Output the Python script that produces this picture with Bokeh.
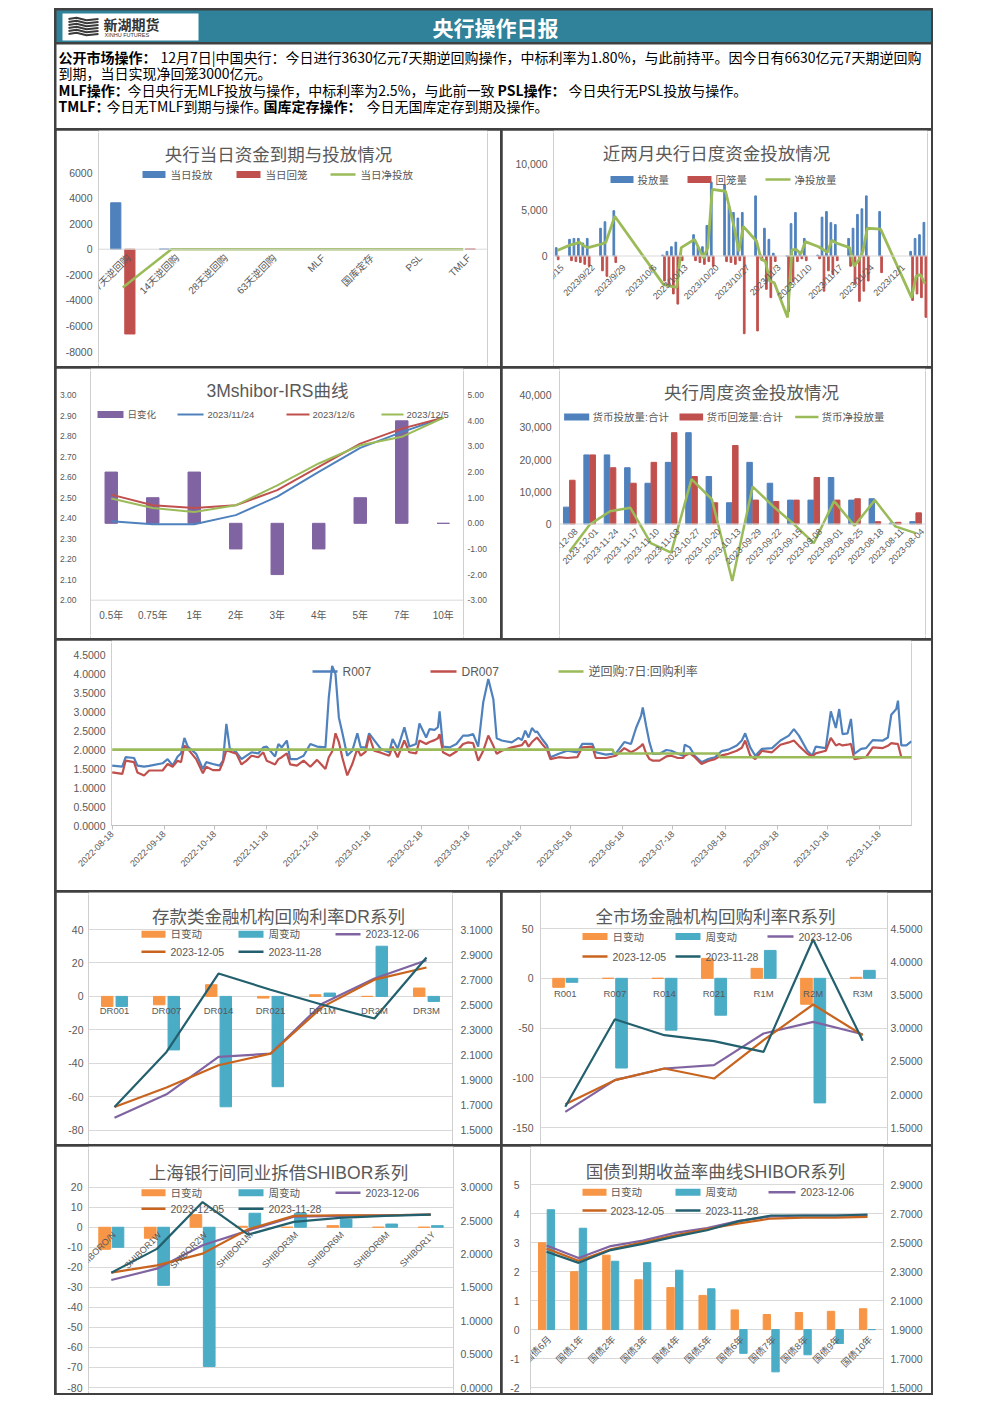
import pandas as pd
from math import pi
from bokeh.plotting import figure
from bokeh.layouts import row, column
from bokeh.models import (Range1d, LinearAxis, FixedTicker, PrintfTickFormatter,
                          NumeralTickFormatter, DatetimeTickFormatter, ColumnDataSource,
                          LabelSet, Span, Spacer)
from bokeh.transform import dodge
from bokeh.core.properties import value
from bokeh.embed import file_html
from bokeh.resources import INLINE

# ======================= DATA =======================
HEADER_TITLE = "央行操作日报"
LOGO_CN = "新湖期货"
LOGO_EN = "XINHU FUTURES"

notice_line1 = [("公开市场操作：", True),
                ("12月7日|中国央行：今日进行3630亿元7天期逆回购操作，中标利率为1.80%，与此前持平。因今日有6630亿元7天期逆回购", False)]
notice_line2 = [("到期，当日实现净回笼3000亿元。", False)]
notice_line3 = [("MLF操作：", True), ("今日央行无MLF投放与操作，中标利率为2.5%，与此前一致 ", False),
                ("PSL操作：", True), ("今日央行无PSL投放与操作。", False)]
notice_line4 = [("TMLF：", True), ("今日无TMLF到期与操作。", False),
                ("国库定存操作：", True), ("今日无国库定存到期及操作。", False)]

# Panel 1
p1_title = "央行当日资金到期与投放情况"
p1_cats = ["7天逆回购", "14天逆回购", "28天逆回购", "63天逆回购", "MLF", "国库定存", "PSL", "TMLF"]
p1_inject = [3630, 0, 0, 0, 0, 0, 0, 0]
p1_withdraw = [-6630, 0, 0, 0, 0, 0, 0, 0]
p1_net = [-3000, 0, 0, 0, 0, 0, 0, 0]
p1_ticks = [-8000, -6000, -4000, -2000, 0, 2000, 4000, 6000]
p1_legend = ["当日投放", "当日回笼", "当日净投放"]

# Panel 2
p2_title = "近两月央行日度资金投放情况"
p2_dates = ["2023-09-15", "2023-09-18", "2023-09-19", "2023-09-20", "2023-09-21", "2023-09-22",
            "2023-09-25", "2023-09-26", "2023-09-28",
            "2023-10-09", "2023-10-10", "2023-10-11", "2023-10-12", "2023-10-13",
            "2023-10-16", "2023-10-17", "2023-10-18", "2023-10-19", "2023-10-20",
            "2023-10-23", "2023-10-24", "2023-10-25", "2023-10-26", "2023-10-27",
            "2023-10-30", "2023-10-31", "2023-11-01", "2023-11-02", "2023-11-03",
            "2023-11-06", "2023-11-07", "2023-11-08", "2023-11-09", "2023-11-10",
            "2023-11-13", "2023-11-14", "2023-11-15", "2023-11-16", "2023-11-17",
            "2023-11-20", "2023-11-21", "2023-11-22", "2023-11-23", "2023-11-24",
            "2023-11-27",
            "2023-12-04", "2023-12-05", "2023-12-06", "2023-12-07"]
p2_inject = [900, 1800, 1900, 1900, 1400, 1900, 3000, 3700, 4900,
             100, 500, 1000, 1500, 300,
             2300, 1000, 1000, 3300, 8000,
             7700, 5400, 4700, 4100, 4700,
             6500, 200, 3000, 1800, 300,
             0, 3500, 4700, 500, 1900,
             100, 4200, 4800, 3600, 3400,
             1900, 3000, 4500, 5100, 6500,
             4800,
             500, 1900, 2300, 3630]
p2_withdraw = [-400, -500, -600, -700, -900, -1100, -1600, -2200, -700,
               -2700, -3300, -4100, -5200, -500,
               -500, -700, -900, -600, -1100,
               -600, -700, -900, -500, -8400,
               -8100, -500, -3600, -4500, -600,
               -6000, -2800, -600, -300, -500,
               -300, -3800, -1600, -2000, -500,
               -1100, -3000, -4900, -3800, -2700,
               -1800,
               -4800, -4100, -4500, -6630]
p2_net = [600, 1200, 1300, 1500, 1100, 900, 1300, 1500, 4300,
          -3100, -3200, -3300, -3400, 900,
          1800, 800, -200, 900, 7200,
          7000, 5000, 3000, 500, 3200,
          1600, -300, -600, -2700, -2900,
          -6650, 700, 700, 200, 1550,
          1000, 700, 400, 1700, 1400,
          900, -1100, -500, 500, 3000,
          2900,
          -4500, -2200, -2000, -3000]
p2_tick_dates = ["2023-09-15", "2023-09-22", "2023-09-29", "2023-10-06", "2023-10-13", "2023-10-20",
                 "2023-10-27", "2023-11-03", "2023-11-10", "2023-11-17", "2023-11-24", "2023-12-01"]
p2_tick_labels = ["2023/9/15", "2023/9/22", "2023/9/29", "2023/10/6", "2023/10/13", "2023/10/20",
                  "2023/10/27", "2023/11/3", "2023/11/10", "2023/11/17", "2023/11/24", "2023/12/1"]
p2_pos_ticks = [0, 5000, 10000]
p2_neg_ticks = [-5000, -10000]
p2_neg_labels = ["(5,000)", "(10,000)"]
p2_legend = ["投放量", "回笼量", "净投放量"]

# Panel 3
p3_title = "3Mshibor-IRS曲线"
p3_cats = ["0.5年", "0.75年", "1年", "2年", "3年", "4年", "5年", "7年", "10年"]
p3_change = [2.0, 1.0, 2.0, -1.0, -2.0, -1.0, 1.0, 4.0, 0.0]
p3_1124 = [2.385, 2.37, 2.37, 2.415, 2.505, 2.626, 2.743, 2.82, 2.89]
p3_1206 = [2.515, 2.463, 2.45, 2.463, 2.537, 2.65, 2.764, 2.837, 2.89]
p3_1205 = [2.496, 2.45, 2.43, 2.463, 2.56, 2.667, 2.756, 2.797, 2.89]
p3_left_ticks = [2.0, 2.1, 2.2, 2.3, 2.4, 2.5, 2.6, 2.7, 2.8, 2.9, 3.0]
p3_right_ticks = [-3, -2, -1, 0, 1, 2, 3, 4, 5]
p3_legend = ["日变化", "2023/11/24", "2023/12/6", "2023/12/5"]

# Panel 4
p4_title = "央行周度资金投放情况"
p4_cats = ["2023-12-08", "2023-12-01", "2023-11-24", "2023-11-17", "2023-11-10", "2023-11-03",
           "2023-10-27", "2023-10-20", "2023-10-13", "2023-09-29", "2023-09-22", "2023-09-15",
           "2023-09-08", "2023-09-01", "2023-08-25", "2023-08-18", "2023-08-11", "2023-08-04"]
p4_inject = [5240, 21470, 21470, 17490, 12670, 19160, 28380, 14760, 6600, 19160, 12670, 7430,
             7430, 14450, 7430, 7850, 300, 730]
p4_withdraw = [13600, 21470, 17490, 12670, 19160, 28380, 14760, 6600, 24400, 7430, 7010, 7430,
               14450, 7430, 7850, 730, 520, 3460]
p4_net = [-8590, -200, 3980, 5030, -5970, -8900, 13930, 7640, -17700, 11620, 5550, 100,
          -5970, 7120, -520, 7430, -730, -2830]
p4_pos_ticks = [0, 10000, 20000, 30000, 40000]
p4_neg_ticks = [-10000, -20000, -30000]
p4_neg_labels = ["(10,000)", "(20,000)", "(30,000)"]
p4_legend = ["货币投放量:合计", "货币回笼量:合计", "货币净投放量"]

# Panel 5
p5_dates = ["2022-08-18", "2022-08-24", "2022-08-26", "2022-08-31", "2022-09-02", "2022-09-06",
            "2022-09-09", "2022-09-17", "2022-09-20", "2022-09-23", "2022-09-26", "2022-09-28",
            "2022-09-30", "2022-10-02", "2022-10-07", "2022-10-11", "2022-10-13", "2022-10-17",
            "2022-10-21", "2022-10-23", "2022-10-25", "2022-10-27", "2022-10-31", "2022-11-03",
            "2022-11-06", "2022-11-09", "2022-11-13", "2022-11-16", "2022-11-18", "2022-11-23",
            "2022-11-25", "2022-11-27", "2022-11-30", "2022-12-02", "2022-12-06", "2022-12-10",
            "2022-12-14", "2022-12-18", "2022-12-23", "2022-12-25", "2022-12-27", "2022-12-29",
            "2022-12-31", "2023-01-02", "2023-01-05", "2023-01-08", "2023-01-11", "2023-01-13",
            "2023-01-16", "2023-01-18", "2023-01-21", "2023-01-25", "2023-01-30", "2023-02-01",
            "2023-02-04", "2023-02-08", "2023-02-11", "2023-02-15", "2023-02-17", "2023-02-21",
            "2023-02-23", "2023-02-26", "2023-02-28", "2023-03-01", "2023-03-03", "2023-03-07",
            "2023-03-11", "2023-03-15", "2023-03-18", "2023-03-21", "2023-03-24", "2023-03-27",
            "2023-03-30", "2023-04-02", "2023-04-04", "2023-04-07", "2023-04-13", "2023-04-17",
            "2023-04-19", "2023-04-21", "2023-04-23", "2023-04-25", "2023-04-27", "2023-04-28",
            "2023-05-01", "2023-05-04", "2023-05-06", "2023-05-11", "2023-05-16", "2023-05-22",
            "2023-05-25", "2023-05-31", "2023-06-02", "2023-06-08", "2023-06-14", "2023-06-19",
            "2023-06-23", "2023-06-26", "2023-06-29", "2023-06-30", "2023-07-02", "2023-07-04",
            "2023-07-06", "2023-07-10", "2023-07-14", "2023-07-17", "2023-07-21", "2023-07-24",
            "2023-07-25", "2023-07-28", "2023-07-31", "2023-08-04", "2023-08-08", "2023-08-12",
            "2023-08-16", "2023-08-20", "2023-08-25", "2023-08-28", "2023-08-30", "2023-09-02",
            "2023-09-05", "2023-09-09", "2023-09-15", "2023-09-20", "2023-09-25", "2023-09-28",
            "2023-10-01", "2023-10-06", "2023-10-09", "2023-10-11", "2023-10-17", "2023-10-20",
            "2023-10-23", "2023-10-25", "2023-10-27", "2023-10-30", "2023-11-01", "2023-11-03",
            "2023-11-07", "2023-11-10", "2023-11-14", "2023-11-20", "2023-11-23", "2023-11-25",
            "2023-11-28", "2023-11-29", "2023-12-01", "2023-12-04", "2023-12-07"]
p5_r007 = [1.58, 1.55, 1.80, 1.78, 1.58, 1.55, 1.57, 1.64, 1.75, 1.58, 1.82, 1.90,
           2.31, 2.08, 1.89, 1.49, 1.67, 1.62, 1.58, 1.71, 2.68, 2.04, 1.93, 1.75,
           1.84, 1.93, 1.90, 2.06, 2.08, 1.82, 2.15, 2.06, 2.24, 1.75, 1.75, 1.84,
           2.15, 2.08, 2.06, 3.38, 4.21, 3.99, 2.85, 2.46, 1.84, 1.97, 2.43, 2.06,
           2.06, 2.43, 2.25, 2.02, 1.93, 2.28, 2.02, 2.59, 2.08, 2.15, 2.69, 2.32,
           2.54, 2.52, 2.59, 3.01, 2.08, 2.06, 2.15, 2.37, 2.37, 2.41, 2.08, 3.25,
           3.86, 3.33, 2.30, 2.24, 2.19, 2.31, 2.25, 2.50, 2.32, 2.57, 2.46, 2.48,
           2.28, 2.11, 1.80, 1.89, 1.97, 1.93, 2.15, 2.15, 1.93, 1.87, 1.90, 2.20,
           2.15, 2.57, 2.89, 3.11, 2.63, 2.19, 1.89, 1.89, 1.99, 1.97, 1.89, 1.84,
           2.13, 2.06, 1.84, 1.67, 1.75, 1.80, 1.96, 2.00, 2.11, 2.24, 2.43, 2.06,
           1.84, 2.02, 2.04, 2.24, 2.37, 2.54, 2.37, 1.97, 1.84, 2.08, 2.04, 3.01,
           2.57, 3.07, 2.41, 2.43, 2.81, 1.89, 2.02, 2.04, 2.25, 2.24, 2.32, 2.92,
           3.07, 3.29, 2.11, 2.11, 2.22]
p5_dr007 = [1.40, 1.36, 1.71, 1.67, 1.40, 1.32, 1.45, 1.45, 1.62, 1.55, 1.71, 1.67,
            2.11, 2.02, 1.75, 1.38, 1.55, 1.46, 1.46, 1.67, 1.99, 1.95, 1.89, 1.61,
            1.71, 1.84, 1.80, 1.93, 1.71, 1.61, 1.75, 1.80, 1.90, 1.61, 1.58, 1.71,
            1.55, 1.73, 1.49, 1.80, 1.95, 2.43, 2.20, 1.80, 1.32, 1.62, 2.02, 1.84,
            1.95, 2.37, 1.97, 1.92, 1.84, 2.08, 1.80, 2.24, 1.93, 1.90, 2.24, 2.15,
            2.20, 2.25, 2.30, 2.41, 1.93, 1.84, 1.95, 2.15, 2.19, 2.17, 1.71, 1.97,
            2.37, 2.10, 1.89, 1.97, 2.06, 2.10, 2.12, 2.24, 2.08, 2.20, 2.28, 2.32,
            2.15, 2.00, 1.75, 1.80, 1.78, 1.80, 2.06, 2.08, 1.78, 1.78, 1.84, 2.04,
            1.93, 2.00, 2.10, 2.15, 1.90, 1.75, 1.71, 1.71, 1.82, 1.84, 1.78, 1.78,
            1.84, 1.90, 1.80, 1.62, 1.70, 1.75, 1.85, 1.89, 1.97, 2.05, 2.24, 1.84,
            1.75, 1.97, 1.93, 2.13, 2.19, 2.24, 2.10, 1.89, 1.82, 1.90, 1.97, 2.31,
            2.11, 2.15, 2.11, 2.13, 2.15, 1.75, 1.78, 1.80, 2.06, 2.04, 2.10, 2.17,
            2.15, 2.15, 1.80, 1.80, 1.80]
p5_rr_dates = ["2022-08-18", "2023-06-12", "2023-06-13", "2023-08-14", "2023-08-15", "2023-12-07"]
p5_rr = [2.0, 2.0, 1.9, 1.9, 1.8, 1.8]
p5_ticks = ["2022-08-18", "2022-09-18", "2022-10-18", "2022-11-18", "2022-12-18", "2023-01-18",
            "2023-02-18", "2023-03-18", "2023-04-18", "2023-05-18", "2023-06-18", "2023-07-18",
            "2023-08-18", "2023-09-18", "2023-10-18", "2023-11-18"]
p5_yticks = [0, 0.5, 1.0, 1.5, 2.0, 2.5, 3.0, 3.5, 4.0, 4.5]
p5_legend = ["R007", "DR007", "逆回购:7日:回购利率"]

# Panels 6-9 common legend
bp_legend = ["日变动", "周变动", "2023-12-06", "2023-12-05", "2023-11-28"]

p6_title = "存款类金融机构回购利率DR系列"
p6_cats = ["DR001", "DR007", "DR014", "DR021", "DR1M", "DR2M", "DR3M"]
p6_day = [-6, -5, 7, -1, 1, 0, 5]
p6_week = [-6, -32, -66, -54, 2, 30, -3]
p6_1206 = [1.60, 1.786, 2.084, 2.11, 2.51, 2.71, 2.855]
p6_1205 = [1.685, 1.84, 2.018, 2.11, 2.483, 2.70, 2.797]
p6_1128 = [1.685, 2.124, 2.749, 2.62, 2.50, 2.39, 2.877]
p6_left_ticks = [-80, -60, -40, -20, 0, 20, 40]
p6_right_ticks = [1.5, 1.7, 1.9, 2.1, 2.3, 2.5, 2.7, 2.9, 3.1]

p7_title = "全市场金融机构回购利率R系列"
p7_cats = ["R001", "R007", "R014", "R021", "R1M", "R2M", "R3M"]
p7_day = [-9, 0, 0, 20, 10, -26, 1]
p7_week = [-4, -90, -52, -37, 28, -125, 8]
p7_1206 = [1.74, 2.217, 2.393, 2.443, 2.92, 3.095, 2.909]
p7_1205 = [1.856, 2.217, 2.393, 2.242, 2.819, 3.356, 2.894]
p7_1128 = [1.816, 3.135, 2.894, 2.804, 2.643, 4.334, 2.809]
p7_left_ticks = [-150, -100, -50, 0, 50]
p7_right_ticks = [1.5, 2.0, 2.5, 3.0, 3.5, 4.0, 4.5]

p8_title = "上海银行间同业拆借SHIBOR系列"
p8_cats = ["SHIBORO/N", "SHIBOR1W", "SHIBOR2W", "SHIBOR1M", "SHIBOR3M", "SHIBOR6M", "SHIBOR9M", "SHIBOR1Y"]
p8_day = [-11, -5.5, 6.3, 0.5, 0, 0.8, 0, 0]
p8_week = [-10, -29, -69.5, 7, 7, 4, 1.6, 0.8]
p8_1206 = [1.61, 1.78, 2.13, 2.35, 2.56, 2.57, 2.58, 2.59]
p8_1205 = [1.72, 1.83, 2.005, 2.37, 2.57, 2.58, 2.58, 2.59]
p8_1128 = [1.72, 2.076, 2.777, 2.29, 2.48, 2.54, 2.57, 2.59]
p8_left_ticks = [-80, -70, -60, -50, -40, -30, -20, -10, 0, 10, 20]
p8_right_ticks = [0.0, 0.5, 1.0, 1.5, 2.0, 2.5, 3.0]

p9_title = "国债到期收益率曲线SHIBOR系列"
p9_cats = ["国债6月", "国债1年", "国债2年", "国债3年", "国债4年", "国债5年", "国债6年", "国债7年",
           "国债8年", "国债9年", "国债10年"]
p9_day = [3.0, 2.0, 2.57, 1.72, 1.45, 1.18, 0.68, 0.52, 0.59, 0.63, 0.72]
p9_week = [4.14, 3.5, 2.36, 2.31, 2.05, 1.41, -0.82, -1.46, -0.87, -0.48, 0.0]
p9_1206 = [2.481, 2.394, 2.477, 2.514, 2.568, 2.601, 2.651, 2.682, 2.688, 2.688, 2.688]
p9_1205 = [2.459, 2.376, 2.455, 2.503, 2.551, 2.595, 2.634, 2.667, 2.673, 2.673, 2.678]
p9_1128 = [2.438, 2.361, 2.449, 2.492, 2.542, 2.586, 2.649, 2.688, 2.688, 2.688, 2.695]
p9_left_ticks = [-2, -1, 0, 1, 2, 3, 4, 5]
p9_right_ticks = [1.5, 1.7, 1.9, 2.1, 2.3, 2.5, 2.7, 2.9]

# ======================= STYLE =======================
GREY = "#595959"
GRID = "#d9d9d9"
BLUE = "#4f81bd"
RED = "#c0504d"
GREEN = "#9bbb59"
PURPLE = "#8064a2"
ORANGE = "#f79646"
TEAL = "#4bacc6"
BROWN = "#c8641e"
DTEAL = "#23606e"
NEGRED = "#e01e1e"
HEAD = "#2f8299"
DARK = "#404040"
FONT = "Liberation Sans, Noto Sans CJK SC"
CJK = "Noto Sans CJK SC"
DAY = 86400000.0
PANEL_CSS = {"outline": "1px solid #c4c4c4", "outline-offset": "-3px"}


def ms(s):
    return pd.Timestamp(s).value / 1e6


class Lin:
    def __init__(s, p0, v0, p1, v1):
        s.p0, s.v0 = p0, v0
        s.a = (v1 - v0) / (p1 - p0)

    def __call__(s, q):
        return s.v0 + (q - s.p0) * s.a

    def px(s, v):
        return s.p0 + (v - s.v0) / s.a


def make_fig(W, H, fl, fr, fx, fy, fb=0, **kw):
    p = figure(width=W, height=H, x_range=Range1d(fx(fl), fx(W - fr)),
               y_range=Range1d(fy(H - fb), fy(0)),
               output_backend="svg", toolbar_location=None, title=None,
               x_axis_location=("below" if fb else None), y_axis_location="left",
               min_border_left=fl, min_border_right=fr, min_border_top=0, min_border_bottom=fb,
               background_fill_color="white", border_fill_color="white",
               outline_line_color=None, styles=PANEL_CSS, **kw)
    p.xgrid.visible = False
    p.ygrid.visible = False
    return p


def yax(ax, ticks, fmt, standoff, size="10.5px", color=GREY):
    ax.ticker = FixedTicker(ticks=ticks)
    ax.formatter = fmt
    ax.axis_line_color = None
    ax.major_tick_line_color = None
    ax.minor_tick_line_color = None
    ax.major_tick_out = 0
    ax.major_tick_in = 0
    ax.minor_tick_out = 0
    ax.minor_tick_in = 0
    ax.major_label_standoff = standoff
    ax.major_label_text_font = FONT
    ax.major_label_text_font_size = size
    ax.major_label_text_color = color


def txt(p, fx, fy, px, py, s, size="10.5px", color=GREY, align="left", style="normal", font=FONT):
    p.text(x=[fx(px)], y=[fy(py)], text=[s], text_font=value(font), text_font_size=size,
           text_color=color, text_align=align, text_baseline="middle", text_font_style=style)


def sw_box(p, fx, fy, x0, x1, yc, color, h=7):
    p.quad(left=[fx(x0)], right=[fx(x1)], top=[fy(yc - h / 2)], bottom=[fy(yc + h / 2)],
           fill_color=color, line_color=None)


def sw_line(p, fx, fy, x0, x1, yc, color, w=2.5):
    p.segment(x0=[fx(x0)], y0=[fy(yc)], x1=[fx(x1)], y1=[fy(yc)], line_color=color, line_width=w)


def labels(p, xs, ys, texts, size, angle=0.0, align="right", color=GREY, y_range_name="default"):
    src = ColumnDataSource(dict(x=xs, y=ys, t=texts))
    p.add_layout(LabelSet(x="x", y="y", text="t", source=src, angle=angle, text_align=align,
                          text_baseline="middle", text_font=value(FONT), text_font_size=size,
                          text_color=color, y_range_name=y_range_name))


def grid_on(p, ticks):
    p.ygrid.visible = True
    p.ygrid.ticker = FixedTicker(ticks=ticks)
    p.ygrid.grid_line_color = GRID
    p.ygrid.grid_line_width = 1


# ======================= HEADER =======================
hdr = figure(width=875, height=32, x_range=Range1d(0, 875), y_range=Range1d(32, 0),
             output_backend="svg", toolbar_location=None, title=None,
             x_axis_location=None, y_axis_location=None,
             min_border_left=0, min_border_right=0, min_border_top=0, min_border_bottom=0,
             background_fill_color=HEAD, border_fill_color=HEAD, outline_line_color=None)
hdr.xgrid.visible = False
hdr.ygrid.visible = False
hdr.quad(left=[6], right=[142], top=[3], bottom=[30], fill_color="white", line_color=None)
hdr.multi_line(xs=[[12, 20, 30, 42]] * 6,
               ys=[[y, y - 1.2, y + 1.2, y] for y in (8.5, 11.5, 14.5, 17.5, 20.5, 23.5)],
               line_color="#3a3a3a", line_width=2)
hdr.text(x=[47], y=[13], text=[LOGO_CN], text_font=value(CJK), text_font_size="14px",
         text_font_style="bold", text_color="#333333", text_baseline="middle")
hdr.text(x=[48], y=[24.5], text=[LOGO_EN], text_font=value("Liberation Sans"), text_font_size="5.5px",
         text_color="#333333", text_baseline="middle")
hdr.text(x=[439], y=[16], text=[HEADER_TITLE], text_font=value(CJK), text_font_size="21px",
         text_font_style="bold", text_color="white", text_align="center", text_baseline="middle")

# ======================= NOTICE BOX =======================
tb = figure(width=875, height=84, x_range=Range1d(0, 875), y_range=Range1d(84, 0),
            output_backend="svg", toolbar_location=None, title=None,
            x_axis_location=None, y_axis_location=None,
            min_border_left=0, min_border_right=0, min_border_top=0, min_border_bottom=0,
            background_fill_color="white", border_fill_color="white", outline_line_color=None)
tb.xgrid.visible = False
tb.ygrid.visible = False
notice_pos = [(12, [2, 104]), (28, [2]), (45, [2, 71, 441, 512]), (61, [2, 50, 207, 310])]
for (yy, xs), segs in zip(notice_pos, [notice_line1, notice_line2, notice_line3, notice_line4]):
    for xx, (s, bold) in zip(xs, segs):
        tb.text(x=[xx], y=[yy], text=[s], text_font=value(CJK), text_font_size="14px",
                text_font_style=("bold" if bold else "normal"), text_color="black",
                text_baseline="middle")

# ======================= PANEL 1 =======================
W, H, fl, fr = 444, 236, 42, 13
st = (431 - 42) / 8
fx = Lin(fl + st / 2, 0, fl + st * 1.5, 1)
fy = Lin(42, 6000, 221, -8000)
p1 = make_fig(W, H, fl, fr, fx, fy)
yax(p1.yaxis[0], p1_ticks, PrintfTickFormatter(format="%d"), 6)
p1.add_layout(Span(location=0, dimension="width", line_color=GRID, line_width=1))
s1 = ColumnDataSource(dict(x=list(range(len(p1_cats))), inj=p1_inject, wd=p1_withdraw, net=p1_net))
p1.vbar(x=dodge("x", -0.145), top="inj", bottom=0, width=0.21, source=s1, color=BLUE)
p1.vbar(x=dodge("x", 0.145), top="wd", bottom=0, width=0.21, source=s1, color=RED)
p1.line(x="x", y="net", source=s1, line_color=GREEN, line_width=2.5)
zp = fy.px(0)
labels(p1, [i + 6 / st for i in range(len(p1_cats))], [fy(zp + 7)] * len(p1_cats), p1_cats,
       "10px", angle=pi / 4)
txt(p1, fx, fy, 222, 23, p1_title, size="17.5px", align="center", font=CJK)
sw_box(p1, fx, fy, 86, 109, 44, BLUE)
txt(p1, fx, fy, 114, 44, p1_legend[0], size="10.5px")
sw_box(p1, fx, fy, 180, 204, 44, RED)
txt(p1, fx, fy, 209, 44, p1_legend[1], size="10.5px")
sw_line(p1, fx, fy, 274, 299, 44, GREEN)
txt(p1, fx, fy, 304, 44, p1_legend[2], size="10.5px")

# ======================= PANEL 2 =======================
W, H, fl, fr = 429, 236, 51, 4
d0 = ms(p2_dates[0])
fx = Lin(54.7, d0, 54.7 + 4.43, d0 + DAY)
fy = Lin(33, 10000, 218, -10000)
p2 = make_fig(W, H, fl, fr, fx, fy)
yax(p2.yaxis[0], p2_pos_ticks, NumeralTickFormatter(format="0,0"), 6)
p2.add_layout(Span(location=0, dimension="width", line_color=GRID, line_width=1))
labels(p2, [fx(fl - 6)] * len(p2_neg_ticks), p2_neg_ticks, p2_neg_labels, "10.5px", color=NEGRED)
s2 = ColumnDataSource(dict(x=[ms(d) for d in p2_dates], inj=p2_inject, wd=p2_withdraw, net=p2_net))
p2.vbar(x=dodge("x", -0.22 * DAY), top="inj", bottom=0, width=0.38 * DAY, source=s2, color=BLUE)
p2.vbar(x=dodge("x", 0.22 * DAY), top="wd", bottom=0, width=0.38 * DAY, source=s2, color=RED)
p2.line(x="x", y="net", source=s2, line_color=GREEN, line_width=2.8)
zp = fy.px(0)
labels(p2, [ms(d) + 5 * DAY / 4.43 for d in p2_tick_dates], [fy(zp + 10)] * len(p2_tick_dates),
       p2_tick_labels, "9px", angle=pi / 4)
txt(p2, fx, fy, 214, 22, p2_title, size="17.5px", align="center", font=CJK)
sw_box(p2, fx, fy, 108, 131, 49, BLUE)
txt(p2, fx, fy, 135, 49, p2_legend[0])
sw_box(p2, fx, fy, 185, 209, 49, RED)
txt(p2, fx, fy, 213, 49, p2_legend[1])
sw_line(p2, fx, fy, 263, 288, 49, GREEN)
txt(p2, fx, fy, 292, 49, p2_legend[2])

# ======================= PANEL 3 =======================
W, H, fl, fr = 444, 270, 34, 37
st = 41.5
fx = Lin(fl + st / 2, 0, fl + st * 1.5, 1)
fy = Lin(26.7, 3.0, 231.7, 2.0)
fyr = Lin(26.7, 5.0, 231.7, -3.0)
p3 = make_fig(W, H, fl, fr, fx, fy)
p3.extra_y_ranges = {"r": Range1d(fyr(H), fyr(0))}
yax(p3.yaxis[0], p3_left_ticks, PrintfTickFormatter(format="%.2f"), 14, size="8.5px")
ra = LinearAxis(y_range_name="r")
yax(ra, p3_right_ticks, PrintfTickFormatter(format="%.2f"), 4, size="8.5px")
p3.add_layout(ra, "right")
p3.add_layout(Span(location=2.0, dimension="width", line_color=GRID, line_width=1))
s3 = ColumnDataSource(dict(x=list(range(len(p3_cats))), chg=p3_change, a=p3_1124, b=p3_1206, c=p3_1205))
p3.vbar(x="x", top="chg", bottom=0, width=0.3, source=s3, color=PURPLE, y_range_name="r")
p3.line(x="x", y="a", source=s3, line_color=BLUE, line_width=2)
p3.line(x="x", y="b", source=s3, line_color=RED, line_width=2)
p3.line(x="x", y="c", source=s3, line_color=GREEN, line_width=2)
p3.text(x=list(range(len(p3_cats))), y=[fy(247)] * len(p3_cats), text=p3_cats,
        text_font=value(FONT), text_font_size="10px", text_color=GREY,
        text_align="center", text_baseline="middle")
txt(p3, fx, fy, 221, 22, p3_title, size="17.5px", align="center", font=FONT)
sw_box(p3, fx, fy, 41, 67, 46, PURPLE)
txt(p3, fx, fy, 71, 46, p3_legend[0], size="9.5px")
sw_line(p3, fx, fy, 121, 147, 46, BLUE, 2)
txt(p3, fx, fy, 151, 46, p3_legend[1], size="9.5px")
sw_line(p3, fx, fy, 230, 253, 46, RED, 2)
txt(p3, fx, fy, 256, 46, p3_legend[2], size="9.5px")
sw_line(p3, fx, fy, 325, 347, 46, GREEN, 2)
txt(p3, fx, fy, 350, 46, p3_legend[3], size="9.5px")

# ======================= PANEL 4 =======================
W, H, fl, fr = 429, 270, 57, 6
st = (423.3 - 56.6) / 18
fx = Lin(56.6 + st / 2, 0, 56.6 + st * 1.5, 1)
fy = Lin(26.8, 40000, 155.5, 0)
p4 = make_fig(W, H, fl, fr, fx, fy)
yax(p4.yaxis[0], p4_pos_ticks, NumeralTickFormatter(format="0,0"), 8)
p4.add_layout(Span(location=0, dimension="width", line_color=GRID, line_width=1))
labels(p4, [fx(fl - 8)] * len(p4_neg_ticks), p4_neg_ticks, p4_neg_labels, "10.5px", color=NEGRED)
s4 = ColumnDataSource(dict(x=list(range(len(p4_cats))), inj=p4_inject, wd=p4_withdraw, net=p4_net))
p4.vbar(x=dodge("x", -0.15), top="inj", bottom=0, width=0.27, source=s4, color=BLUE)
p4.vbar(x=dodge("x", 0.15), top="wd", bottom=0, width=0.27, source=s4, color=RED)
p4.line(x="x", y="net", source=s4, line_color=GREEN, line_width=2.5)
zp = fy.px(0)
labels(p4, [i + 7 / st for i in range(len(p4_cats))], [fy(zp + 6)] * len(p4_cats), p4_cats,
       "9px", angle=pi / 4)
txt(p4, fx, fy, 249, 23, p4_title, size="17.5px", align="center", font=CJK)
sw_box(p4, fx, fy, 61.6, 86.7, 48.5, BLUE)
txt(p4, fx, fy, 90, 48.5, p4_legend[0])
sw_box(p4, fx, fy, 177, 200.6, 48.5, RED)
txt(p4, fx, fy, 204, 48.5, p4_legend[1])
sw_line(p4, fx, fy, 292.7, 316, 48.5, GREEN)
txt(p4, fx, fy, 319, 48.5, p4_legend[2])

# ======================= PANEL 5 =======================
W, H, fl, fr, fb = 875, 250, 55, 20, 65
d0 = ms(p5_dates[0])
fx = Lin(55.7, d0, 55.7 + 1.679, d0 + DAY)
fy = Lin(14.3, 4.5, 185, 0.0)
p5 = make_fig(W, H, fl, fr, fx, fy, fb=fb, x_axis_type="datetime")
yax(p5.yaxis[0], p5_yticks, PrintfTickFormatter(format="%.4f"), 6)
xa = p5.xaxis[0]
xa.ticker = FixedTicker(ticks=[ms(d) for d in p5_ticks])
fmt = "%Y-%m-%d"
xa.formatter = DatetimeTickFormatter(microseconds=fmt, milliseconds=fmt, seconds=fmt, minsec=fmt,
                                     minutes=fmt, hourmin=fmt, hours=fmt, days=fmt, months=fmt, years=fmt)
xa.major_label_orientation = pi / 4
xa.major_label_text_font = FONT
xa.major_label_text_font_size = "9px"
xa.major_label_text_color = GREY
xa.axis_line_color = "#bfbfbf"
xa.major_tick_line_color = "#bfbfbf"
xa.major_tick_out = 4
xa.major_tick_in = 0
xa.minor_tick_line_color = None
xa.major_label_standoff = 3
s5 = ColumnDataSource(dict(x=[ms(d) for d in p5_dates], r=p5_r007, d=p5_dr007))
s5b = ColumnDataSource(dict(x=[ms(d) for d in p5_rr_dates], v=p5_rr))
p5.line(x="x", y="r", source=s5, line_color=BLUE, line_width=2.2)
p5.line(x="x", y="d", source=s5, line_color=RED, line_width=2.2)
p5.line(x="x", y="v", source=s5b, line_color=GREEN, line_width=2.6)
sw_line(p5, fx, fy, 256, 281, 31, BLUE, 2.5)
txt(p5, fx, fy, 286, 31, p5_legend[0], size="12px")
sw_line(p5, fx, fy, 374, 400, 31, RED, 2.5)
txt(p5, fx, fy, 405, 31, p5_legend[1], size="12px")
sw_line(p5, fx, fy, 502, 527, 31, GREEN, 2.5)
txt(p5, fx, fy, 532, 31, p5_legend[2], size="12px")


# ======================= PANELS 6-9 =======================
def bp_panel(W, H, fl, fr, st, fy, fyr, lt, rt, lfmt, lso, rso, cats, day, week, l1, l2, l3,
             dodge_off, bw, title, tpos, leg_x, leg_y):
    fx = Lin(fl + st / 2, 0, fl + st * 1.5, 1)
    p = make_fig(W, H, fl, fr, fx, fy)
    p.extra_y_ranges = {"r": Range1d(fyr(H), fyr(0))}
    yax(p.yaxis[0], lt, PrintfTickFormatter(format=lfmt), lso)
    ra = LinearAxis(y_range_name="r")
    yax(ra, rt, PrintfTickFormatter(format="%.4f"), rso)
    p.add_layout(ra, "right")
    grid_on(p, lt)
    src = ColumnDataSource(dict(x=list(range(len(cats))), day=day, week=week, a=l1, b=l2, c=l3))
    p.vbar(x=dodge("x", -dodge_off), top="day", bottom=0, width=bw, source=src, color=ORANGE)
    p.vbar(x=dodge("x", dodge_off), top="week", bottom=0, width=bw, source=src, color=TEAL)
    p.line(x="x", y="a", source=src, line_color=PURPLE, line_width=2.2, y_range_name="r")
    p.line(x="x", y="b", source=src, line_color=BROWN, line_width=2.2, y_range_name="r")
    p.line(x="x", y="c", source=src, line_color=DTEAL, line_width=2.2, y_range_name="r")
    txt(p, fx, fy, tpos[0], tpos[1], title, size="17.5px", align="center", font=FONT)
    (b0, b1, t0), (c0, c1, u0), (e0, e1, v0) = leg_x
    y1, y2 = leg_y
    sw_box(p, fx, fy, b0, b1, y1, ORANGE)
    txt(p, fx, fy, t0, y1, bp_legend[0])
    sw_box(p, fx, fy, c0, c1, y1, TEAL)
    txt(p, fx, fy, u0, y1, bp_legend[1])
    sw_line(p, fx, fy, e0, e1, y1, PURPLE)
    txt(p, fx, fy, v0, y1, bp_legend[2])
    sw_line(p, fx, fy, b0, b1, y2, BROWN)
    txt(p, fx, fy, t0, y2, bp_legend[3])
    sw_line(p, fx, fy, c0, c1, y2, DTEAL)
    txt(p, fx, fy, u0, y2, bp_legend[4])
    return p, fx


fy6 = Lin(37, 40, 237.7, -80)
fyr6 = Lin(37, 3.1, 237.7, 1.5)
p6, fx6 = bp_panel(444, 252, 32, 48, 52.0, fy6, fyr6, p6_left_ticks, p6_right_ticks, "%d", 5, 8,
                   p6_cats, p6_day, p6_week, p6_1206, p6_1205, p6_1128, 0.14, 0.22,
                   p6_title, (222, 24), [(85, 109, 114), (182, 207, 212), (279, 304, 309)], (41.7, 59.3))
p6.text(x=list(range(len(p6_cats))), y=[fy6(118)] * len(p6_cats), text=p6_cats,
        text_font=value(FONT), text_font_size="9.5px", text_color=GREY,
        text_align="center", text_baseline="middle")

fy7 = Lin(36, 50, 235.3, -150)
fyr7 = Lin(36, 4.5, 235.3, 1.5)
p7, fx7 = bp_panel(429, 252, 38, 44, (385 - 38) / 7, fy7, fyr7, p7_left_ticks, p7_right_ticks, "%d", 7, 3,
                   p7_cats, p7_day, p7_week, p7_1206, p7_1205, p7_1128, 0.135, 0.235,
                   p7_title, (213, 24), [(80, 105, 110), (173, 198, 203), (265, 291, 296)], (44, 64))
p7.text(x=list(range(len(p7_cats))), y=[fy7(101)] * len(p7_cats), text=p7_cats,
        text_font=value(FONT), text_font_size="9.5px", text_color=GREY,
        text_align="center", text_baseline="middle")

fy8 = Lin(40.7, 20, 241, -80)
fyr8 = Lin(40.7, 3.0, 241, 0.0)
st8 = (397.3 - 32.3) / 8
p8, fx8 = bp_panel(444, 247, 32, 47, st8, fy8, fyr8, p8_left_ticks, p8_right_ticks, "%d", 6, 7,
                   p8_cats, p8_day, p8_week, p8_1206, p8_1205, p8_1128, 0.146, 0.256,
                   p8_title, (222, 26), [(85, 109, 114), (182, 207, 212), (279, 304, 309)], (46.3, 62.3))
zp = fy8.px(0)
labels(p8, [i + 3 / st8 for i in range(len(p8_cats))], [fy8(zp + 6)] * len(p8_cats), p8_cats,
       "9px", angle=pi / 4)

fy9 = Lin(38.3, 5, 241, -2)
fyr9 = Lin(38.3, 2.9, 241, 1.5)
st9 = (381 - 28) / 11
p9, fx9 = bp_panel(429, 247, 28, 48, st9, fy9, fyr9, p9_left_ticks, p9_right_ticks, "%d", 11, 7,
                   p9_cats, p9_day, p9_week, p9_1206, p9_1205, p9_1128, 0.135, 0.23,
                   p9_title, (213, 25), [(80, 104, 108), (173, 198, 203), (266, 293, 298)], (45.7, 64))
zp = fy9.px(0)
labels(p9, [i + 3 / st9 for i in range(len(p9_cats))], [fy9(zp + 8)] * len(p9_cats), p9_cats,
       "9.5px", angle=pi / 4)

# ======================= LAYOUT =======================
inner = column(row(hdr), row(tb), row(p1, p2, spacing=2), row(p3, p4, spacing=2), row(p5),
               row(p6, p7, spacing=2), row(p8, p9, spacing=2), spacing=2)
framed = row(Spacer(width=2, height=1), inner, Spacer(width=2, height=1))
dash = column(Spacer(width=1, height=2), framed, Spacer(width=1, height=2),
              styles={"background-color": DARK})
root = column(Spacer(width=1, height=8), row(Spacer(width=54, height=1), dash))

open("out.html", "w").write(file_html(root, INLINE, title="央行操作日报"))
